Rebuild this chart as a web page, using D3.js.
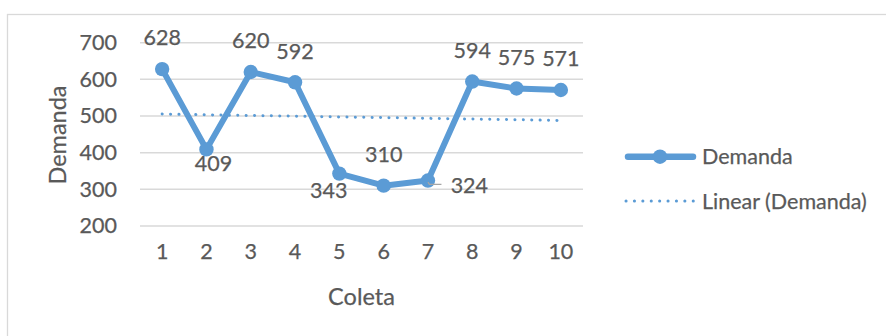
<!DOCTYPE html>
<html>
<head>
<meta charset="utf-8">
<script src="https://cdn.jsdelivr.net/npm/d3@7"></script>
<style>
  html, body { margin: 0; padding: 0; background: #fff; }
  svg { display: block; }
  text { font-family: Lato, "Open Sans", sans-serif; fill: #595959; stroke: #595959; stroke-width: 0.25px; }
</style>
</head>
<body>
<svg id="chart" width="886" height="336"></svg>
<script>
// Demanda por coleta
const coletas = [1, 2, 3, 4, 5, 6, 7, 8, 9, 10];
const demanda = [628, 409, 620, 592, 343, 310, 324, 594, 575, 571];
const yTicks = [200, 300, 400, 500, 600, 700];
const seriesName = "Demanda";
const trendName = "Linear (Demanda)";
const xTitle = "Coleta";
const yTitle = "Demanda";

const blue = "#5B9BD5";
const grid = "#D9D9D9";
const fs = 21.5;

const svg = d3.select("#chart");

// outer chart frame
svg.append("rect")
  .attr("x", 7.5).attr("y", 14.5)
  .attr("width", 900).attr("height", 400)
  .attr("fill", "none").attr("stroke", grid).attr("stroke-width", 1.3);

const x = d3.scaleBand().domain(coletas).range([140, 583]);
const y = d3.scaleLinear().domain([200, 700]).range([226, 42.7]);
const cx = d => x(d) + x.bandwidth() / 2;

// horizontal gridlines
svg.append("g").selectAll("line").data(yTicks).join("line")
  .attr("x1", 140).attr("x2", 583)
  .attr("y1", d => y(d)).attr("y2", d => y(d))
  .attr("stroke", grid).attr("stroke-width", 1.5);

// value axis labels
const yAxis = d3.axisLeft(y).tickValues(yTicks).tickSize(0).tickPadding(0);
svg.append("g").attr("transform", "translate(117,0)").call(yAxis)
  .call(g => g.select(".domain").remove())
  .selectAll("text")
  .attr("font-size", fs).attr("fill", "#595959")
  .style("font-family", "Lato, sans-serif");

// category axis labels
const xAxis = d3.axisBottom(x).tickSize(0).tickPadding(0);
svg.append("g").attr("transform", "translate(0,244)").call(xAxis)
  .call(g => g.select(".domain").remove())
  .selectAll("text")
  .attr("font-size", fs).attr("fill", "#595959")
  .style("font-family", "Lato, sans-serif");

// axis titles
svg.append("text")
  .attr("x", 361.5).attr("y", 305)
  .attr("text-anchor", "middle").attr("font-size", 23.5)
  .text(xTitle);
svg.append("text")
  .attr("transform", "translate(66,135) rotate(-90)")
  .attr("text-anchor", "middle").attr("font-size", 23.5)
  .text(yTitle);

// least-squares trendline
const n = coletas.length;
const mx = d3.mean(coletas), my = d3.mean(demanda);
const sxy = d3.sum(coletas, (c, i) => (c - mx) * (demanda[i] - my));
const sxx = d3.sum(coletas, c => (c - mx) ** 2);
const slope = sxy / sxx, intercept = my - slope * mx;
const trend = [coletas[0], coletas[n - 1]].map(c => [cx(c), y(intercept + slope * c)]);

svg.append("path")
  .attr("d", d3.line()(trend))
  .attr("fill", "none").attr("stroke", blue)
  .attr("stroke-width", 3).attr("stroke-linecap", "round")
  .attr("stroke-dasharray", "0.1 8.3");

// data series
const pts = coletas.map((c, i) => ({ c, v: demanda[i], px: cx(c), py: y(demanda[i]) }));

svg.append("path")
  .attr("d", d3.line().x(d => d.px).y(d => d.py)(pts))
  .attr("fill", "none").attr("stroke", blue)
  .attr("stroke-width", 6).attr("stroke-linejoin", "round").attr("stroke-linecap", "round");

svg.append("g").selectAll("circle").data(pts).join("circle")
  .attr("cx", d => d.px).attr("cy", d => d.py).attr("r", 7.2)
  .attr("fill", blue);

// data labels: above by default, a few moved to avoid the line
const place = { 2: "below", 5: "belowLeft", 7: "right" };
const offset = {
  above: [0, -31.5, "middle"],
  below: [7, 13.6, "middle"],
  belowLeft: [-10.6, 17, "middle"],
  right: [22.7, 4.5, "start"]
};

// leader line for the label set to the right
pts.filter(d => place[d.c] === "right").forEach(d => {
  svg.append("path")
    .attr("d", `M${d.px},${d.py + 1.5} L${d.px + 1.5},${d.py + 3.8} L${d.px + 13.5},${d.py + 3.8}`)
    .attr("fill", "none").attr("stroke", "#A6A6A6").attr("stroke-width", 1.3);
});

svg.append("g").selectAll("text").data(pts).join("text")
  .attr("x", d => d.px + offset[place[d.c] || "above"][0])
  .attr("y", d => d.py + offset[place[d.c] || "above"][1])
  .attr("dy", "0.36em")
  .attr("text-anchor", d => offset[place[d.c] || "above"][2])
  .attr("font-size", fs)
  .text(d => d.v);

// legend
const lg = svg.append("g");
lg.append("line")
  .attr("x1", 628).attr("x2", 693).attr("y1", 156.7).attr("y2", 156.7)
  .attr("stroke", blue).attr("stroke-width", 6.5).attr("stroke-linecap", "round");
lg.append("circle").attr("cx", 660).attr("cy", 156.7).attr("r", 7.2).attr("fill", blue);
lg.append("text").attr("x", 702).attr("y", 156.7).attr("dy", "0.36em")
  .attr("font-size", fs).text(seriesName);

lg.append("line")
  .attr("x1", 626).attr("x2", 696).attr("y1", 201).attr("y2", 201)
  .attr("stroke", blue).attr("stroke-width", 3).attr("stroke-linecap", "round")
  .attr("stroke-dasharray", "0.1 8.3");
lg.append("text").attr("x", 702).attr("y", 201).attr("dy", "0.36em")
  .attr("font-size", fs).text(trendName);
</script>
</body>
</html>
